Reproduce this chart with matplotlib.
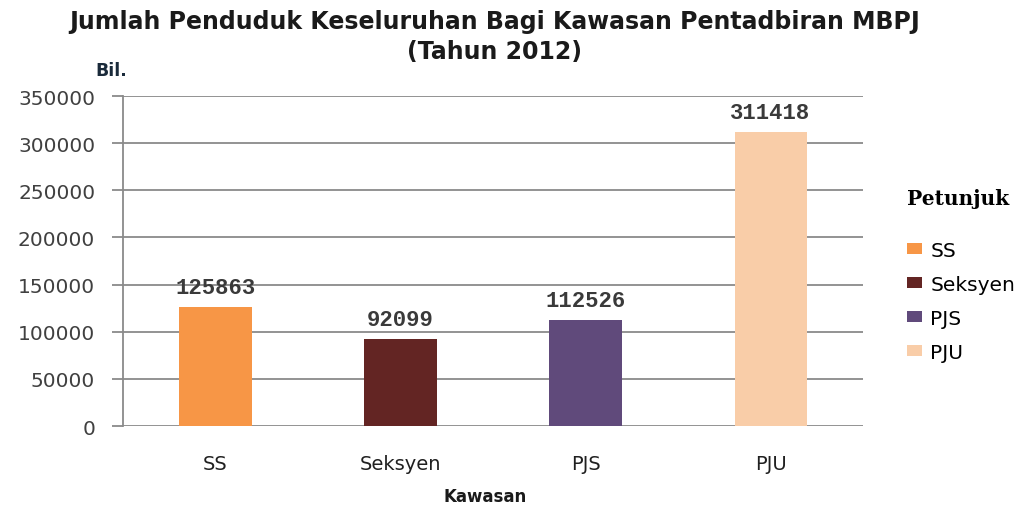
import numpy as np
import matplotlib.pyplot as plt

kawasan = ['SS', 'Seksyen', 'PJS', 'PJU']
penduduk = [125863, 92099, 112526, 311418]
warna = ['#F79646', '#632523', '#604A7B', '#F9CDA8']
yticks = [0, 50000, 100000, 150000, 200000, 250000, 300000, 350000]

fig = plt.figure(figsize=(10.19, 5.10), dpi=100)
ax = fig.add_axes([0.1207, 0.1627, 0.7263, 0.6471])

x = np.arange(len(kawasan))
bars = ax.bar(x, penduduk, width=0.39, color=warna, zorder=3, label=kawasan)
for xi, v in zip(x, penduduk):
    ax.text(xi, v + 9500, str(v), ha='center', va='bottom', fontsize=16,
            family='Liberation Mono', fontweight='bold', color='#3a3a3a')

ax.set_xlim(-0.5, 3.5)
ax.set_ylim(0, 350000)
ax.set_yticks(yticks)
ax.set_yticklabels([str(t) for t in yticks], fontsize=14.5, color='#404040')
ax.set_xticks(x)
ax.set_xticklabels(kawasan, fontsize=14, color='#202020')
ax.tick_params(axis='y', length=8, color='#8a8a8a', width=1.3, pad=12)
ax.tick_params(axis='x', length=0, pad=20)
ax.grid(axis='y', color='#8a8a8a', linewidth=1.3, zorder=0)
for s in ['top', 'right', 'bottom']:
    ax.spines[s].set_visible(False)
ax.spines['left'].set_color('#8a8a8a')
ax.spines['left'].set_linewidth(1.3)

fig.text(0.485, 0.957, 'Jumlah Penduduk Keseluruhan Bagi Kawasan Pentadbiran MBPJ',
         ha='center', va='center', fontsize=17, fontweight='bold', color='#1a1a1a')
fig.text(0.485, 0.898, '(Tahun 2012)', ha='center', va='center', fontsize=17,
         fontweight='bold', color='#1a1a1a')
fig.text(0.094, 0.861, 'Bil.', ha='left', va='center', fontsize=12.5,
         fontweight='bold', color='#1a2a3a')
fig.text(0.476, 0.025, 'Kawasan', ha='center', va='center', fontsize=12,
         fontweight='bold', color='#1a1a1a')

leg = ax.legend(handles=bars, labels=kawasan, loc='center left',
                bbox_to_anchor=(1.035, 0.458), frameon=False, fontsize=14.5,
                handlelength=0.75, handleheight=0.5, handletextpad=0.4,
                labelspacing=0.75, title='Petunjuk', alignment='left',
                title_fontproperties={'family': 'DejaVu Serif', 'weight': 'bold', 'size': 14.5})
leg._legend_box.sep = 23.5

fig.savefig('out.png', dpi=100)
